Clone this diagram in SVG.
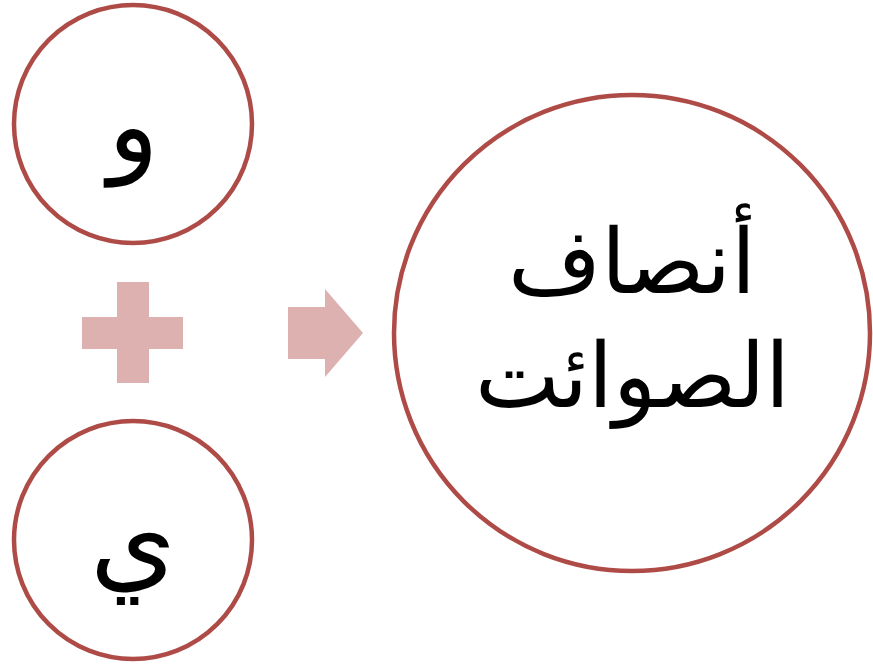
<svg xmlns="http://www.w3.org/2000/svg" width="873" height="670" viewBox="0 0 873 670">
<style>
.c{fill:#fff;stroke:#AE4B47;stroke-width:4.5}
.t{font-family:"Liberation Serif","DejaVu Serif","Noto Sans",serif;fill:#000;text-anchor:middle}
.s{fill:#DEB1B1}
</style>
<rect width="873" height="670" fill="#fff"/>
<g id="node-waw"><circle class="c" cx="133" cy="124" r="119"/><text class="t" x="133" y="162" font-size="105">و</text></g>
<g id="node-ya"><circle class="c" cx="133" cy="540" r="119"/><text class="t" x="133" y="578" font-size="110">ي</text></g>
<g id="node-result"><circle class="c" cx="632" cy="333" r="238"/>
<text class="t" x="632" y="293" font-size="90">أنصاف</text>
<text class="t" x="632" y="407" font-size="90">الصوائت</text></g>
<g id="connectors">
<path class="s" d="M117,282H149V317H183V349H149V383H117V349H82V317H117Z"/>
<path class="s" d="M288,307H325V289L363,333L325,377V359H288Z"/>
</g>
</svg>
